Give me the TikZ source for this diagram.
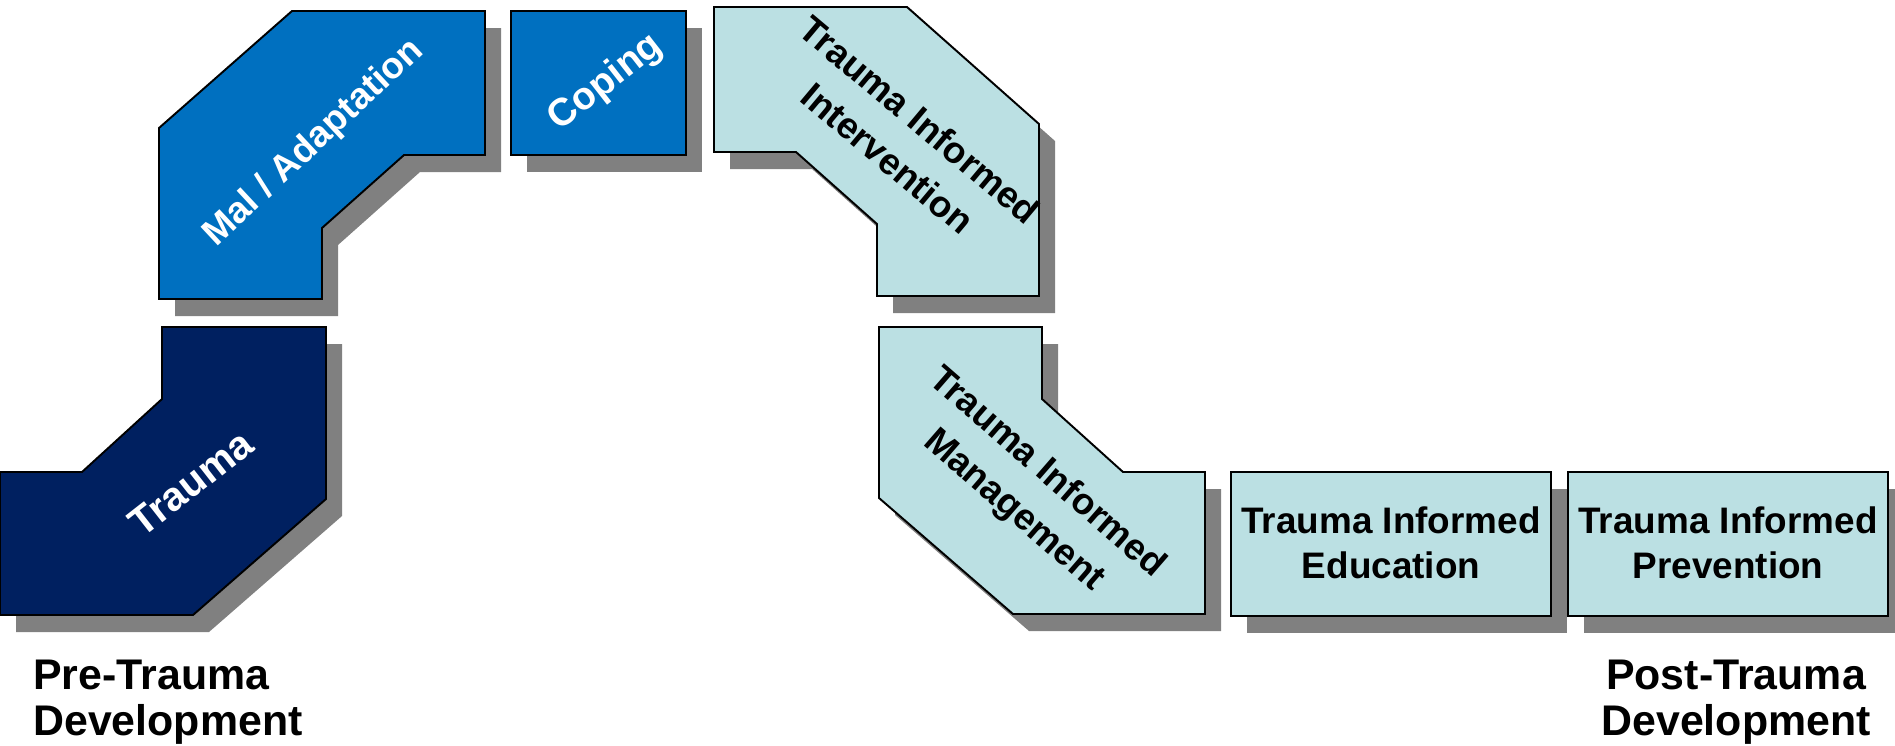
\documentclass[tikz,border=0pt]{standalone}
\usepackage{fontspec}
\setmainfont{Liberation Sans}
\usetikzlibrary{positioning}
\definecolor{navy}{HTML}{002060}
\definecolor{midblue}{HTML}{0070C0}
\definecolor{paleteal}{HTML}{BBE0E3}
\definecolor{shadowgray}{HTML}{808080}
\tikzset{
	dropshade/.style = {fill = shadowgray, shift = {(16, 17)}},
	stepedge/.style = {draw = black, line width = 1.1pt, line join = miter},
	steptext/.style = {font = \bfseries\fontsize{21}{25.5}\selectfont, align = center, inner sep = 0pt},
	tilttext/.style = {font = \bfseries\fontsize{21}{28.5}\selectfont, align = center, inner sep = 0pt},
	endlabel/.style = {font = \bfseries\fontsize{24.4}{25.8}\selectfont, inner sep = 0pt}
}

\begin{document}
\begin{tikzpicture}[x = 0.02cm, y = -0.02cm]
	\useasboundingbox (0, 0) rectangle (1895, 745);
	\fill [dropshade] (162, 327) -- (326, 327) -- (326, 499) -- (193, 615) -- (0, 615) -- (0, 472) -- (82, 472) -- (162, 399) -- cycle;
	\fill [dropshade] (292, 11) -- (485, 11) -- (485, 155) -- (404, 155) -- (322, 228) -- (322, 299) -- (159, 299) -- (159, 128) -- cycle;
	\fill [dropshade] (511, 11) rectangle (686, 155);
	\fill [dropshade] (714, 7) -- (907, 7) -- (1039, 124) -- (1039, 296) -- (877, 296) -- (877, 224) -- (796, 152) -- (714, 152) -- cycle;
	\fill [dropshade] (879, 327) -- (1042, 327) -- (1042, 399) -- (1123, 472) -- (1205, 472) -- (1205, 614) -- (1013, 614) -- (879, 498) -- cycle;
	\fill [dropshade] (1231, 472) rectangle (1551, 616);
	\fill [dropshade] (1568, 472) rectangle (1888, 616);
	\draw [stepedge, fill = navy] (162, 327) -- (326, 327) -- (326, 499) -- (193, 615) -- (0, 615) -- (0, 472) -- (82, 472) -- (162, 399) -- cycle;
	\draw [stepedge, fill = midblue] (292, 11) -- (485, 11) -- (485, 155) -- (404, 155) -- (322, 228) -- (322, 299) -- (159, 299) -- (159, 128) -- cycle;
	\draw [stepedge, fill = midblue] (511, 11) rectangle (686, 155);
	\draw [stepedge, fill = paleteal] (714, 7) -- (907, 7) -- (1039, 124) -- (1039, 296) -- (877, 296) -- (877, 224) -- (796, 152) -- (714, 152) -- cycle;
	\draw [stepedge, fill = paleteal] (879, 327) -- (1042, 327) -- (1042, 399) -- (1123, 472) -- (1205, 472) -- (1205, 614) -- (1013, 614) -- (879, 498) -- cycle;
	\draw [stepedge, fill = paleteal] (1231, 472) rectangle (1551, 616);
	\draw [stepedge, fill = paleteal] (1568, 472) rectangle (1888, 616);
	\node [steptext, white, font = \bfseries\fontsize{23}{27}\selectfont, rotate = 38] (trauma) at (191, 483) {Trauma};
	\node [steptext, white, rotate = 43] (maladapt) at (314, 143) {Mal / Adaptation};
	\node [steptext, white, font = \bfseries\fontsize{22}{26}\selectfont, rotate = 38] (coping) at (606, 83) {Coping};
	\node [tilttext, rotate = -40] (intervention) at (904, 139) {Trauma Informed\\Intervention};
	\node [tilttext, rotate = -41] (management) at (1030, 492) {Trauma Informed\\Management};
	\node [steptext] (education) at (1391, 543) {Trauma Informed\\Education};
	\node [steptext] (prevention) at (1728, 543) {Trauma Informed\\Prevention};
	\node [endlabel, anchor = north west, align = left] (pretrauma) at (33, 660) {Pre-Trauma\\Development};
	\node [endlabel, anchor = north, align = center] (posttrauma) at (1736, 660) {Post-Trauma\\Development};
\end{tikzpicture}
\end{document}
